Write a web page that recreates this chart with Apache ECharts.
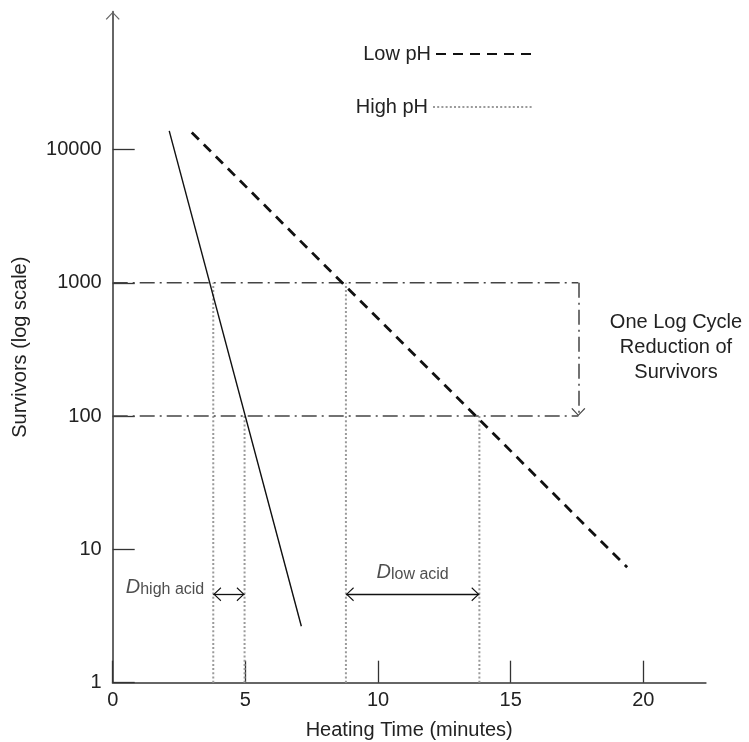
<!DOCTYPE html>
<html><head><meta charset="utf-8">
<script src="https://cdn.jsdelivr.net/npm/echarts@6/dist/echarts.min.js"></script>
<style>html,body{margin:0;padding:0;background:#fff}#c{width:749px;height:742px}</style>
</head><body><div id="c"></div>
<script>
const FONT = "'Liberation Sans', Arial, Helvetica, sans-serif";
const xTicks = [0, 5, 10, 15, 20];
const yTicks = [1, 10, 100, 1000, 10000];
const xMax = 22.35;
const yMax = 108000;
const highAcid = [[2.13, 13800], [7.11, 2.65]];
const lowPH = [[2.98, 13400], [19.39, 7.35]];
const guideX = [3.79, 4.97, 8.79, 13.82];
const guideTop = [1000, 100, 1000, 100];
const cycleX = 17.55;
const cycleLevels = [1000, 100];
const dArrowY = 4.6;
const dHigh = [3.79, 4.97];
const dLow = [8.79, 13.82];
// open chevron, tip at the centre of its bounding box (tiny dot at top extends the box)
const CHEVRON_C = 'path://M7,8L14,15.3L13,16L7,9.6L1,16L0,15.3ZM7,0L7.02,0L7,0.02Z';
const CHEVRON = 'path://M7,0L14,7.3L13,8L7,1.6L1,8L0,7.3Z';

const chart = echarts.init(document.getElementById('c'), null, {renderer: 'canvas'});

const series = [];
series.push({
  name: 'Low pH', type: 'line', data: lowPH, symbol: 'none', silent: true,
  lineStyle: {color: '#111', width: 2.8, type: [10, 7]}, itemStyle: {color: '#111'}, z: 5
});
guideX.forEach((gx, i) => {
  series.push({
    name: 'High pH', type: 'line', data: [[gx, 1], [gx, guideTop[i]]], symbol: 'none', silent: true,
    lineStyle: {color: '#9a9a9a', width: 2, type: [2, 2.2]}, itemStyle: {color: '#9a9a9a'}, z: 3
  });
});
series.push({
  name: 'High acid', type: 'line', data: highAcid, symbol: 'none', silent: true,
  lineStyle: {color: '#111', width: 1.4}, z: 5
});
cycleLevels.forEach(lv => {
  series.push({
    name: 'cycle', type: 'line', data: [[0, lv], [cycleX, lv]], symbol: 'none', silent: true,
    lineStyle: {color: '#444', width: 1.5, type: [15, 5, 2, 5]}, z: 4
  });
});
series.push({
  name: 'cycleArrow', type: 'line', data: [], symbol: 'none', silent: true,
  markLine: {
    silent: true, animation: false, label: {show: false},
    symbol: ['none', CHEVRON_C], symbolSize: [14, 16],
    lineStyle: {color: '#444', width: 1.5, type: [15, 5, 2, 5]},
    data: [[{coord: [cycleX, cycleLevels[0]]}, {coord: [cycleX, cycleLevels[1]]}]]
  }
});
series.push({
  name: 'dArrows', type: 'line', data: [], symbol: 'none', silent: true,
  markLine: {
    silent: true, animation: false, label: {show: false},
    symbol: [CHEVRON_C, CHEVRON_C], symbolSize: [14, 16],
    lineStyle: {color: '#111', width: 1.3, type: 'solid'},
    data: [
      [{coord: [dHigh[0], dArrowY]}, {coord: [dHigh[1], dArrowY]}],
      [{coord: [dLow[0], dArrowY]}, {coord: [dLow[1], dArrowY]}]
    ]
  }
});
const rich = {
  D: {fontSize: 20, fontStyle: 'italic', fontFamily: FONT, color: '#222', lineHeight: 20},
  s: {fontSize: 16, fontFamily: FONT, color: '#222', lineHeight: 7, verticalAlign: 'bottom'}
};
series.push({
  name: 'dLabelHigh', type: 'scatter', symbolSize: 0, silent: true,
  data: [[dHigh[0], dArrowY]],
  label: {show: true, position: 'left', distance: 9, offset: [0, -6.5], color: '#222',
          formatter: '{D|D}{s|high acid}', rich: rich}
});
series.push({
  name: 'dLabelLow', type: 'scatter', symbolSize: 0, silent: true,
  data: [[(dLow[0] + dLow[1]) / 2, dArrowY]],
  label: {show: true, position: 'top', distance: 12, color: '#222',
          formatter: '{D|D}{s|low acid}', rich: rich}
});

const legendBase = {
  orient: 'horizontal', align: 'right', itemWidth: 100, itemHeight: 20, padding: 0,
  selectedMode: false, itemStyle: {opacity: 0},
  textStyle: {fontSize: 20, color: '#222', fontFamily: FONT}
};

chart.setOption({
  animation: false,
  backgroundColor: '#fff',
  textStyle: {fontFamily: FONT},
  grid: {left: 112.7, right: 43.3, top: 11.7, bottom: 59.3, containLabel: false, outerBoundsMode: 'none'},
  legend: [
    Object.assign({}, legendBase, {data: ['Low pH'], right: 212, top: 44}),
    Object.assign({}, legendBase, {data: ['High pH'], right: 215, top: 97})
  ],
  xAxis: {
    type: 'value', min: 0, max: xMax, interval: 5,
    name: 'Heating Time (minutes)', nameLocation: 'middle', nameGap: 38,
    nameTextStyle: {fontSize: 20, color: '#222', fontFamily: FONT},
    axisLine: {onZero: false, lineStyle: {color: '#666', width: 2}},
    axisTick: {inside: true, length: 22, customValues: xTicks, lineStyle: {color: '#333', width: 1.3}},
    axisLabel: {customValues: xTicks, margin: 8, fontSize: 20, color: '#222', fontFamily: FONT,
                formatter: v => String(v)},
    splitLine: {show: false}
  },
  yAxis: {
    type: 'log', logBase: 10, min: 1, max: yMax,
    name: 'Survivors (log scale)', nameLocation: 'middle', nameGap: 82,
    nameTextStyle: {fontSize: 20, color: '#222', fontFamily: FONT},
    axisLine: {show: true, onZero: false, lineStyle: {color: '#666', width: 2},
               symbol: ['none', CHEVRON], symbolSize: [15, 8], symbolOffset: [0, -4]},
    axisTick: {show: true, inside: true, length: 22, customValues: yTicks, lineStyle: {color: '#333', width: 1.3}},
    axisLabel: {customValues: yTicks, margin: 11, fontSize: 20, color: '#222', fontFamily: FONT,
                formatter: v => String(Math.round(v))},
    splitLine: {show: false}
  },
  graphic: [{
    type: 'text', x: 676, y: 347, silent: true,
    style: {text: 'One Log Cycle\nReduction of\nSurvivors', fontSize: 20, fontFamily: FONT,
            fill: '#222', align: 'center', verticalAlign: 'middle', lineHeight: 25}
  }],
  series: series
});
</script>
</body></html>
